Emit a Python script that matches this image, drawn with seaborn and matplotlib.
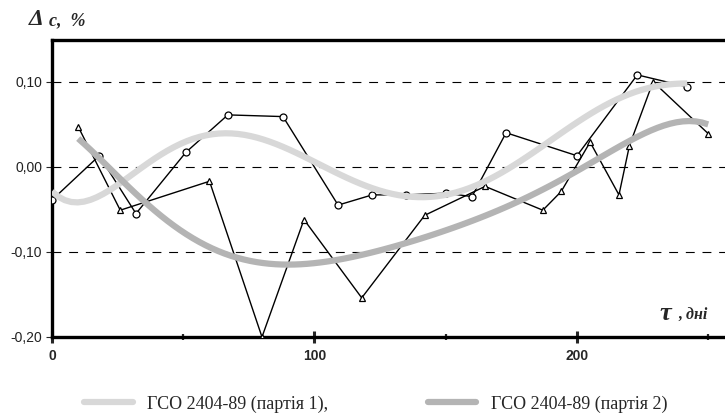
import numpy as np
import matplotlib.pyplot as plt
import seaborn as sns
from matplotlib.lines import Line2D
from matplotlib.ticker import FixedLocator, FuncFormatter

sns.set_style("white")
plt.rcParams['font.family'] = ['Liberation Sans', 'DejaVu Sans']

# партія 1 (кружки)
days_1 = [0, 18, 32, 51, 67, 88, 109, 122, 135, 150, 160, 173, 200, 223, 242]
delta_1 = [-0.039, 0.013, -0.055, 0.017, 0.061, 0.059, -0.045, -0.033,
           -0.033, -0.031, -0.035, 0.040, 0.013, 0.108, 0.094]

# партія 2 (трикутники)
days_2 = [10, 26, 60, 80, 96, 118, 142, 165, 187, 194, 205, 216, 220, 229, 250]
delta_2 = [0.047, -0.051, -0.017, -0.200, -0.062, -0.154, -0.057, -0.023,
           -0.051, -0.029, 0.029, -0.033, 0.025, 0.100, 0.039]

y_ticks = [-0.20, -0.10, 0.00, 0.10]
x_major = [0, 100, 200]
x_minor = [50, 150, 250]
legend_labels = ["ГСО 2404-89 (партія 1),", "ГСО 2404-89 (партія 2)"]
trend_colors = ["#d8d8d8", "#b4b4b4"]

fig = plt.figure(figsize=(7.25, 4.17), dpi=100)
ax = fig.add_axes([52 / 725, 1 - 337 / 417, 1 - 52 / 725, 297 / 417])

# -------------------------------
# data lines
# -------------------------------
sns.lineplot(x=days_1, y=delta_1, sort=False, ax=ax, color='black', lw=1.0,
             marker='o', markersize=5, markerfacecolor='white',
             markeredgecolor='black', markeredgewidth=0.9, zorder=3)
sns.lineplot(x=days_2, y=delta_2, sort=False, ax=ax, color='black', lw=1.0,
             marker='^', markersize=5, markerfacecolor='white',
             markeredgecolor='black', markeredgewidth=0.9, zorder=3)

# -------------------------------
# polynomial trends (6th order)
# -------------------------------
sns.regplot(x=days_1, y=delta_1, order=6, ci=None, scatter=False, ax=ax,
            line_kws=dict(color=trend_colors[0], lw=4.5, zorder=5,
                          solid_capstyle='butt'))
sns.regplot(x=days_2, y=delta_2, order=6, ci=None, scatter=False, ax=ax,
            line_kws=dict(color=trend_colors[1], lw=4.5, zorder=5,
                          solid_capstyle='butt'))

ax.set_xlim(0, 256.4)
ax.set_ylim(-0.20, 0.149)
ax.set_xlabel("")
ax.set_ylabel("")

# grid
for yv in y_ticks[1:]:
    ax.axhline(yv, color='black', lw=0.8, linestyle=(0, (8, 7)), zorder=1)

# spines
for s in ['left', 'bottom', 'top']:
    ax.spines[s].set_visible(True)
    ax.spines[s].set_color('black')
    ax.spines[s].set_linewidth(2.4)
ax.spines['right'].set_visible(False)

# ticks
ax.yaxis.set_major_locator(FixedLocator(y_ticks))
ax.yaxis.set_major_formatter(FuncFormatter(lambda v, p: f"{v:.2f}".replace('.', ',')))
ax.xaxis.set_major_locator(FixedLocator(x_major))
ax.xaxis.set_minor_locator(FixedLocator(x_minor))
ax.tick_params(axis='y', which='major', left=True, direction='out', length=4,
               width=0.8, pad=3, labelsize=10, labelcolor='#222222')
ax.tick_params(axis='x', which='major', bottom=True, direction='inout',
               length=8, width=2.2, pad=5, labelsize=10)
ax.tick_params(axis='x', which='minor', bottom=True, direction='inout',
               length=4.5, width=1.6)
for lbl in ax.get_xticklabels():
    lbl.set_fontweight('bold')

# axis titles
fig.text(29 / 725, 1 - 25 / 417, "Δ", fontsize=17, fontweight='bold',
         fontstyle='italic', family=['Liberation Serif'], va='baseline')
fig.text(49 / 725, 1 - 25 / 417, "c,  %", fontsize=13, fontweight='bold',
         fontstyle='italic', family=['Liberation Serif'], va='baseline')
fig.text(659 / 725, 1 - 320 / 417, "τ", fontsize=19, fontweight='bold',
         fontstyle='italic', family=['Liberation Serif'], va='baseline')
fig.text(678 / 725, 1 - 320 / 417, ", дні", fontsize=11.5, fontweight='bold',
         fontstyle='italic', family=['Liberation Serif'], va='baseline')

# legend
handles = [Line2D([], [], color=c, lw=4.5) for c in trend_colors]
fig.legend(handles, legend_labels, ncol=2, loc='center left',
           bbox_to_anchor=(84 / 725, 1 - 404 / 417), frameon=False,
           prop=dict(family='Liberation Serif', size=13),
           handlelength=2.7, handletextpad=0.8, columnspacing=5.5,
           borderpad=0, borderaxespad=0)

plt.savefig("out.png", dpi=100)
